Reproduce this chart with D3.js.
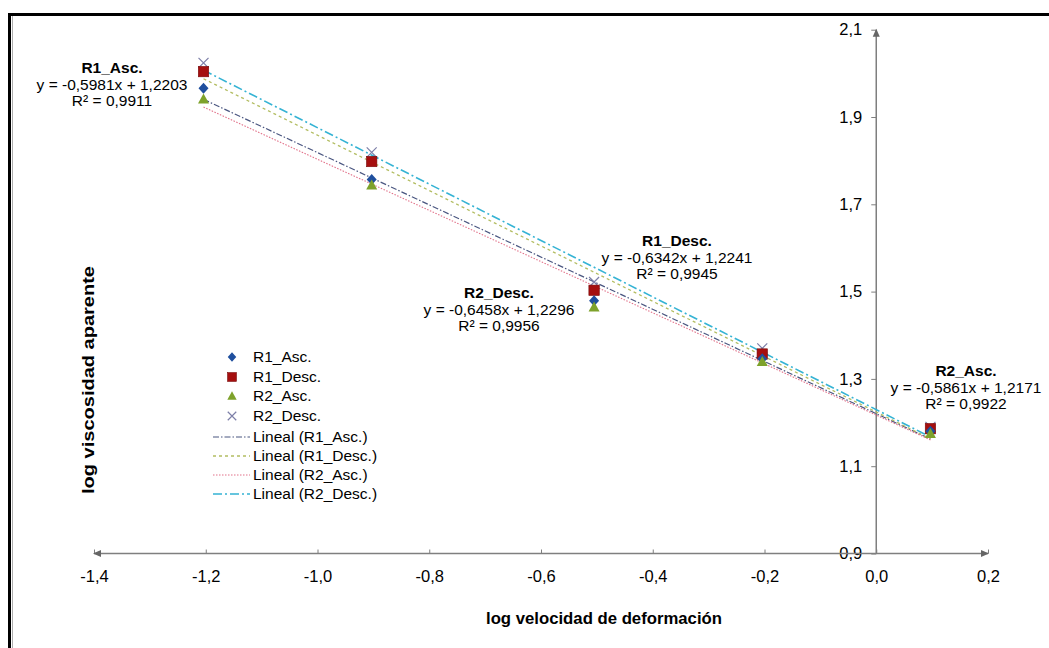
<!DOCTYPE html>
<html>
<head>
<meta charset="utf-8">
<script src="https://cdn.jsdelivr.net/npm/d3@7"></script>
<style>
  html, body { margin: 0; padding: 0; background: #fff; }
  svg { display: block; font-family: "Liberation Sans", Arial, sans-serif; }
</style>
</head>
<body>
<svg id="chart" width="1049" height="648"></svg>
<script>
// ---- data ----
const xValues = [-1.204, -0.903, -0.505, -0.204, 0.097];
const seriesNames = ["R1_Asc.", "R1_Desc.", "R2_Asc.", "R2_Desc."];
const r1Asc  = [1.966, 1.757, 1.479, 1.346, 1.180];
const r1Desc = [2.004, 1.798, 1.503, 1.357, 1.186];
const r2Asc  = [1.941, 1.744, 1.465, 1.340, 1.175];
const r2Desc = [2.024, 1.819, 1.522, 1.370, 1.190];
const slopes     = [-0.5981, -0.6342, -0.5861, -0.6458];
const intercepts = [1.2203, 1.2241, 1.2171, 1.2296];
const r2Values   = ["0,9911", "0,9945", "0,9922", "0,9956"];
const xTicks = [-1.4, -1.2, -1.0, -0.8, -0.6, -0.4, -0.2, 0.0, 0.2];
const yTicks = [0.9, 1.1, 1.3, 1.5, 1.7, 1.9, 2.1];
const xTitle = "log velocidad de deformación";
const yTitle = "log viscosidad aparente";

const seriesValues = [r1Asc, r1Desc, r2Asc, r2Desc];

// ---- styles ----
const FS = 15.5;
const TFS = 16.5;
const markerColors = ["#1f4f9e", "#a50f0f", "#7ea22b", "#7d7fa8"];
const lineColors = ["#4a5680", "#b3bd62", "#e2728a", "#35b3d4"];
const lineDash = ["6,2,1.5,2", "3,3", "1.5,1.5", "9,3,2,3"];
const lineWidth = [1.2, 1.3, 1.1, 1.6];

const svg = d3.select("#chart");

// frame
svg.append("rect").attr("x", 9.5).attr("y", 14.5).attr("width", 1060).attr("height", 660)
  .attr("fill", "none").attr("stroke", "#000").attr("stroke-width", 3);
svg.append("line").attr("x1", 12.5).attr("x2", 12.5).attr("y1", 16).attr("y2", 648)
  .attr("stroke", "#999").attr("stroke-width", 0.8);

const x = d3.scaleLinear().domain([-1.4, 0.2]).range([94, 988]);
const y = d3.scaleLinear().domain([0.9, 2.1]).range([553.5, 29.7]);

const fmt = d => d3.format(".1f")(d).replace("−", "-").replace(".", ",");
const axisColor = "#7f7f7f";

// x axis
const gx = svg.append("g").attr("transform", `translate(0,${y(0.9)})`)
  .call(d3.axisBottom(x).tickValues(xTicks).tickFormat(fmt)
    .tickSizeInner(-4).tickSizeOuter(0).tickPadding(17));
gx.select(".domain").remove();
gx.selectAll(".tick line").attr("stroke", axisColor);
gx.selectAll(".tick text").attr("font-size", TFS).attr("fill", "#000")
  .attr("font-family", "Liberation Sans, Arial, sans-serif");

// y axis
const gy = svg.append("g").attr("transform", `translate(${x(0)},0)`)
  .call(d3.axisLeft(y).tickValues(yTicks).tickFormat(fmt)
    .tickSizeInner(5).tickSizeOuter(0).tickPadding(9));
gy.select(".domain").remove();
gy.selectAll(".tick line").attr("stroke", axisColor);
gy.selectAll(".tick text").attr("font-size", TFS).attr("fill", "#000")
  .attr("font-family", "Liberation Sans, Arial, sans-serif");

// axis lines with arrows
svg.append("line").attr("x1", x(-1.4)).attr("x2", x(0.2)).attr("y1", y(0.9)).attr("y2", y(0.9))
  .attr("stroke", axisColor).attr("stroke-width", 1.5);
svg.append("line").attr("x1", x(0)).attr("x2", x(0)).attr("y1", y(0.9)).attr("y2", y(2.1))
  .attr("stroke", axisColor).attr("stroke-width", 1.5);
const ax = x(-1.4), bx = x(0.2), ay = y(0.9), ty = y(2.1), cx0 = x(0);
svg.append("path").attr("d", `M${ax - 1},${ay} L${ax + 7},${ay - 3.5} L${ax + 7},${ay + 3.5} Z`).attr("fill", "#666");
svg.append("path").attr("d", `M${bx + 1},${ay} L${bx - 7},${ay - 3.5} L${bx - 7},${ay + 3.5} Z`).attr("fill", "#666");
svg.append("path").attr("d", `M${cx0},${ty - 1} L${cx0 - 3.5},${ty + 7} L${cx0 + 3.5},${ty + 7} Z`).attr("fill", "#666");

// trend lines
const xMin = d3.min(xValues), xMax = d3.max(xValues);
const gLines = svg.append("g");
seriesNames.forEach((n, i) => {
  const pts = [xMin, xMax].map(v => [x(v), y(slopes[i] * v + intercepts[i])]);
  gLines.append("path").attr("d", d3.line()(pts)).attr("fill", "none")
    .attr("stroke", lineColors[i]).attr("stroke-width", lineWidth[i])
    .attr("stroke-dasharray", lineDash[i]);
});

// markers
function drawMarker(g, i, cx, cy, s) {
  s = s || 1;
  if (i === 0) {
    g.append("path").attr("d", `M${cx},${cy - 5.5 * s} L${cx + 5 * s},${cy} L${cx},${cy + 5.5 * s} L${cx - 5 * s},${cy} Z`)
      .attr("fill", markerColors[0]);
  } else if (i === 1) {
    g.append("rect").attr("x", cx - 5.2 * s).attr("y", cy - 5.2 * s).attr("width", 10.4 * s).attr("height", 10.4 * s)
      .attr("fill", markerColors[1]).attr("stroke", "#7a0a0a").attr("stroke-width", 0.6);
  } else if (i === 2) {
    g.append("path").attr("d", `M${cx},${cy - 5.5 * s} L${cx + 5.5 * s},${cy + 4.5 * s} L${cx - 5.5 * s},${cy + 4.5 * s} Z`)
      .attr("fill", markerColors[2]);
  } else {
    g.append("path").attr("d", `M${cx - 5 * s},${cy - 5 * s} L${cx + 5 * s},${cy + 5 * s} M${cx - 5 * s},${cy + 5 * s} L${cx + 5 * s},${cy - 5 * s}`)
      .attr("stroke", markerColors[3]).attr("stroke-width", 1.2).attr("fill", "none");
  }
}
const drawOrder = [3, 1, 0, 2];
const gPts = svg.append("g");
drawOrder.forEach(i => {
  seriesValues[i].forEach((v, j) => drawMarker(gPts, i, x(xValues[j]), y(v)));
});

// equation labels
const eqFmt = v => d3.format(".4f")(Math.abs(v)).replace(".", ",");
const labelPos = [[112, 68], [677, 241], [966, 371], [499, 293]];
const labelNames = ["R1_Asc.", "R1_Desc.", "R2_Asc.", "R2_Desc."];
labelPos.forEach((p, i) => {
  const g = svg.append("g").attr("font-size", FS).attr("text-anchor", "middle").attr("fill", "#000");
  g.append("text").attr("x", p[0]).attr("y", p[1]).attr("dy", "0.35em").attr("font-weight", "bold").text(labelNames[i]);
  g.append("text").attr("x", p[0]).attr("y", p[1] + 17).attr("dy", "0.35em")
    .text(`y = -${eqFmt(slopes[i])}x + ${eqFmt(intercepts[i])}`);
  g.append("text").attr("x", p[0]).attr("y", p[1] + 33).attr("dy", "0.35em")
    .text(`R² = ${r2Values[i]}`);
});

// legend
const lg = svg.append("g").attr("font-size", FS);
const rowY = [357, 377, 396, 416, 437, 456, 475, 494];
seriesNames.forEach((n, i) => {
  drawMarker(lg, i, 232, rowY[i], 0.85);
  lg.append("text").attr("x", 253).attr("y", rowY[i]).attr("dy", "0.35em").text(n);
});
seriesNames.forEach((n, i) => {
  const yy = rowY[i + 4];
  lg.append("line").attr("x1", 213).attr("x2", 250).attr("y1", yy).attr("y2", yy)
    .attr("stroke", lineColors[i]).attr("stroke-width", lineWidth[i]).attr("stroke-dasharray", lineDash[i]);
  lg.append("text").attr("x", 253).attr("y", yy).attr("dy", "0.35em").text(`Lineal (${n})`);
});

// axis titles
svg.append("text").attr("x", 604).attr("y", 618).attr("dy", "0.35em").attr("text-anchor", "middle")
  .attr("font-size", 16).attr("font-weight", "bold")
  .attr("textLength", 236).attr("lengthAdjust", "spacingAndGlyphs").text(xTitle);
svg.append("text").attr("transform", "translate(88,380) rotate(-90)").attr("dy", "0.35em")
  .attr("text-anchor", "middle").attr("font-size", 16).attr("font-weight", "bold")
  .attr("textLength", 228).attr("lengthAdjust", "spacingAndGlyphs").text(yTitle);
</script>
</body>
</html>
